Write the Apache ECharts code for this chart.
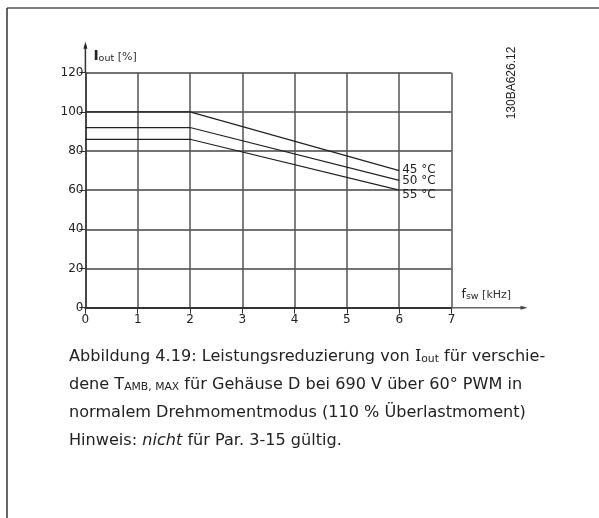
<!DOCTYPE html>
<html><head><meta charset="utf-8">
<script src="https://cdn.jsdelivr.net/npm/echarts@6/dist/echarts.min.js"></script>
<style>html,body{margin:0;padding:0;background:#fff}#c{width:599px;height:518px}</style>
</head><body><div id="c"></div>
<script>
// Data
const freqKHz = [0, 2, 6];
const iout45 = [100, 100, 70];
const iout50 = [92, 92, 65];
const iout55 = [86, 86, 60];
const seriesNames = ['45 °C', '50 °C', '55 °C'];
const xTicks = [0, 1, 2, 3, 4, 5, 6, 7];
const yTicks = [0, 20, 40, 60, 80, 100, 120];
const figureId = '130BA626.12';

const chart = echarts.init(document.getElementById('c'), null, {renderer: 'canvas'});
const FONT = '"DejaVu Sans", Verdana, sans-serif';
const labelOffsets = [[0, -1], [0, 0], [0, 5]];
const allSeries = [iout45, iout50, iout55];

const option = {
  animation: false,
  backgroundColor: '#fff',
  grid: {left: 85.4, right: 147.5, top: 72.7, bottom: 210.3, containLabel: false},
  xAxis: {
    type: 'value', min: xTicks[0], max: xTicks[xTicks.length - 1], interval: 1,
    axisLine: {show: true, lineStyle: {color: '#333', width: 2.2}},
    axisTick: {show: true, length: 6, lineStyle: {color: '#333', width: 1}},
    axisLabel: {color: '#222', fontSize: 12, fontFamily: FONT, margin: 6},
    splitLine: {show: true, lineStyle: {color: '#555', width: 1.5}}
  },
  yAxis: {
    type: 'value', min: yTicks[0], max: yTicks[yTicks.length - 1], interval: 20,
    axisLine: {show: true, lineStyle: {color: '#333', width: 1.5}},
    axisTick: {show: true, length: 6, lineStyle: {color: '#333', width: 1}},
    axisLabel: {color: '#222', fontSize: 12, fontFamily: FONT, margin: 2},
    splitLine: {show: true, lineStyle: {color: '#444', width: 1.5}}
  },
  series: allSeries.map((vals, i) => ({
    name: seriesNames[i],
    type: 'line',
    data: freqKHz.map((x, j) => [x, vals[j]]),
    symbol: 'none',
    lineStyle: {color: '#222', width: 1.2},
    z: 5,
    endLabel: {
      show: true, formatter: '{a}', distance: 3, offset: labelOffsets[i],
      color: '#222', fontSize: 12, fontFamily: FONT
    }
  }))
};
chart.setOption(option);

const pTop = chart.convertToPixel({gridIndex: 0}, [xTicks[0], yTicks[yTicks.length - 1]]);
const pRight = chart.convertToPixel({gridIndex: 0}, [xTicks[xTicks.length - 1], yTicks[0]]);
const yArrowTip = pTop[1] - 31;
const xArrowTip = pRight[0] + 76;

const CAP = 16.1;
const capStyle = {font: CAP + 'px ' + FONT, fill: '#222', verticalAlign: 'middle', align: 'left'};
const capRich = {
  sub: {fontSize: 10.8, fontFamily: FONT, fill: '#222', verticalAlign: 'bottom', padding: [4, 0, 0, 0]},
  it: {fontSize: CAP, fontStyle: 'italic', fontFamily: FONT, fill: '#222'},
  ser: {fontSize: CAP, fontFamily: '"DejaVu Serif", serif', fill: '#222'}
};
const nameRich = {
  I: {fontSize: 14, fontFamily: FONT, fontWeight: 'bold', fill: '#222'},
  f: {fontSize: 12.5, fontFamily: FONT, fill: '#222'},
  sub: {fontSize: 9.5, fontFamily: FONT, fill: '#222', verticalAlign: 'bottom', padding: [4, 0, 0, 0]},
  n: {fontSize: 11, fontFamily: FONT, fill: '#333'}
};
const CX = 69;

chart.setOption({
  graphic: [
    {type: 'line', shape: {x1: 7, y1: 8, x2: 599, y2: 8}, style: {stroke: '#555', lineWidth: 1.5}},
    {type: 'line', shape: {x1: 7, y1: 8, x2: 7, y2: 518}, style: {stroke: '#333', lineWidth: 1.5}},
    {type: 'line', shape: {x1: pTop[0], y1: pTop[1], x2: pTop[0], y2: yArrowTip + 4}, style: {stroke: '#333', lineWidth: 1.5}, z: 10},
    {type: 'polygon', shape: {points: [[pTop[0], yArrowTip], [pTop[0] - 2, yArrowTip + 7], [pTop[0] + 2, yArrowTip + 7]]}, style: {fill: '#222'}, z: 10},
    {type: 'line', shape: {x1: pRight[0], y1: pRight[1], x2: xArrowTip - 4, y2: pRight[1]}, style: {stroke: '#666', lineWidth: 1.5}, z: 10},
    {type: 'polygon', shape: {points: [[xArrowTip, pRight[1]], [xArrowTip - 7, pRight[1] - 2], [xArrowTip - 7, pRight[1] + 2]]}, style: {fill: '#444'}, z: 10},
    {type: 'text', x: pTop[0] + 8, y: pTop[1] - 16, style: {text: '{I|I}{sub|out}{n| [%]}', rich: nameRich, verticalAlign: 'middle', align: 'left'}, z: 10},
    {type: 'text', x: pRight[0] + 10, y: pRight[1] - 13, style: {text: '{f|f}{sub|sw}{n| [kHz]}', rich: nameRich, verticalAlign: 'middle', align: 'left'}, z: 10},
    {type: 'text', x: 512, y: 83, rotation: Math.PI / 2, style: {text: figureId, font: '12px "Liberation Sans", Arial, sans-serif', fill: '#222', align: 'center', verticalAlign: 'middle'}},
    {type: 'text', x: CX, y: 357, style: Object.assign({}, capStyle, {text: 'Abbildung 4.19: Leistungsreduzierung von {ser|I}{sub|out} für verschie-', rich: capRich})},
    {type: 'text', x: CX, y: 385, style: Object.assign({}, capStyle, {text: 'dene T{sub|AMB, MAX} für Gehäuse D bei 690 V über 60° PWM in', rich: capRich})},
    {type: 'text', x: CX, y: 413, style: Object.assign({}, capStyle, {text: 'normalem Drehmomentmodus (110 % Überlastmoment)', rich: capRich})},
    {type: 'text', x: CX, y: 441, style: Object.assign({}, capStyle, {text: 'Hinweis: {it|nicht} für Par. 3-15 gültig.', rich: capRich})}
  ]
});
</script></body></html>
